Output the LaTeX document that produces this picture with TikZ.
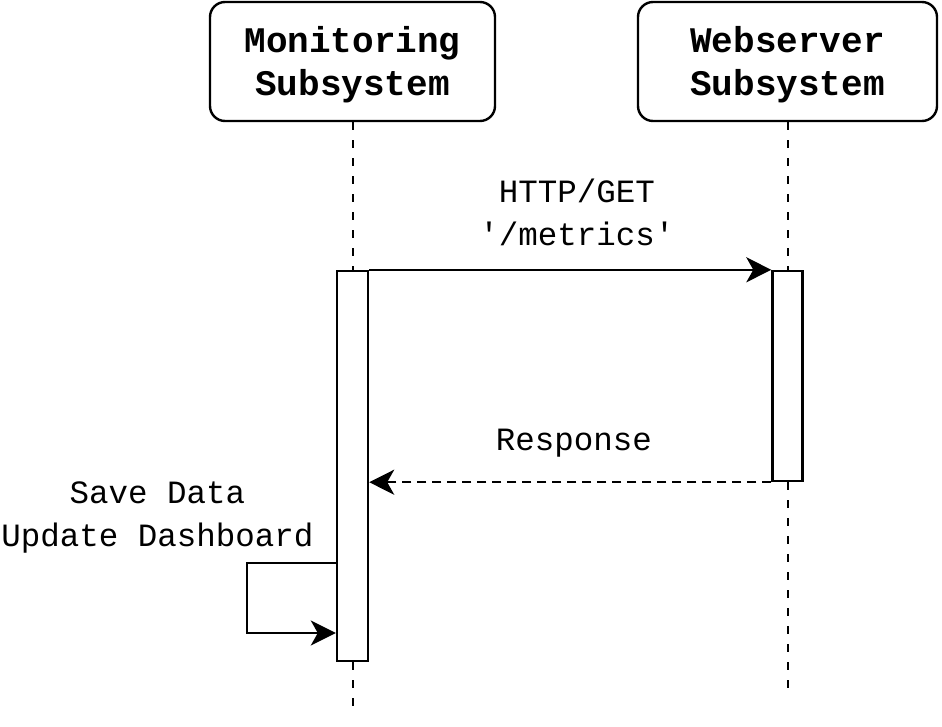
\documentclass[tikz,border=0pt]{standalone}
\usepackage{fontspec}
\setmonofont{Liberation Mono}
\usetikzlibrary{arrows.meta}
\begin{document}
\begin{tikzpicture}[x=1pt,y=-1pt,
  line width=2.4pt,
  title/.style={draw,rounded corners=15pt,minimum width=#1,minimum height=119pt,inner sep=0pt},
  titletext/.style={align=center,font={\ttfamily\bfseries\fontsize{36}{43}\selectfont},inner sep=0pt},
  actbox/.style={draw,fill=white,inner sep=0pt},
  lbl/.style={align=center,font={\ttfamily\fontsize{32.5}{43}\selectfont},inner sep=0pt},
  life/.style={line width=2pt,dash pattern=on 8pt off 10pt},
  msg/.style={-{Stealth[length=25pt,width=25pt,inset=7pt]}},
  ret/.style={-{Stealth[length=25pt,width=25pt,inset=7pt]},dash pattern=on 9pt off 6pt}]
\useasboundingbox (0,0) rectangle (942,726);
\node[title=285pt] (mon) at (352.5,61.5) {};
\node[titletext] (montxt) at (352.5,64.5) {Monitoring\\Subsystem};
\node[title=299pt] (web) at (787.5,61.5) {};
\node[titletext] (webtxt) at (787.5,64.5) {Webserver\\Subsystem};
\coordinate (monend) at (352.5,713);
\coordinate (webend) at (787.5,690);
\draw[life] (mon.south) -- (monend);
\draw[life] (web.south) -- (webend);
\node[actbox,minimum width=31pt,minimum height=390pt] (act1) at (352.5,466) {};
\node[actbox,minimum width=30pt,minimum height=210pt] (act2) at (787.5,376) {};
\draw[msg] (act1.north east) -- (act2.north west);
\draw[ret] (act2.south west) -- (act1.east |- act2.south west);
\coordinate (loopa) at (act1.west |- 0,563);
\coordinate (loopb) at (act1.west |- 0,633);
\draw[msg] (loopa) -- ++(-89,0) |- (loopb);
\node[lbl] (l1) at (577,212) {HTTP/GET\\\textquotesingle/metrics\textquotesingle};
\node[lbl] (l2) at (574,443) {Response};
\node[lbl] (l3) at (157.5,517.5) {Save Data\\Update Dashboard};
\end{tikzpicture}
\end{document}
